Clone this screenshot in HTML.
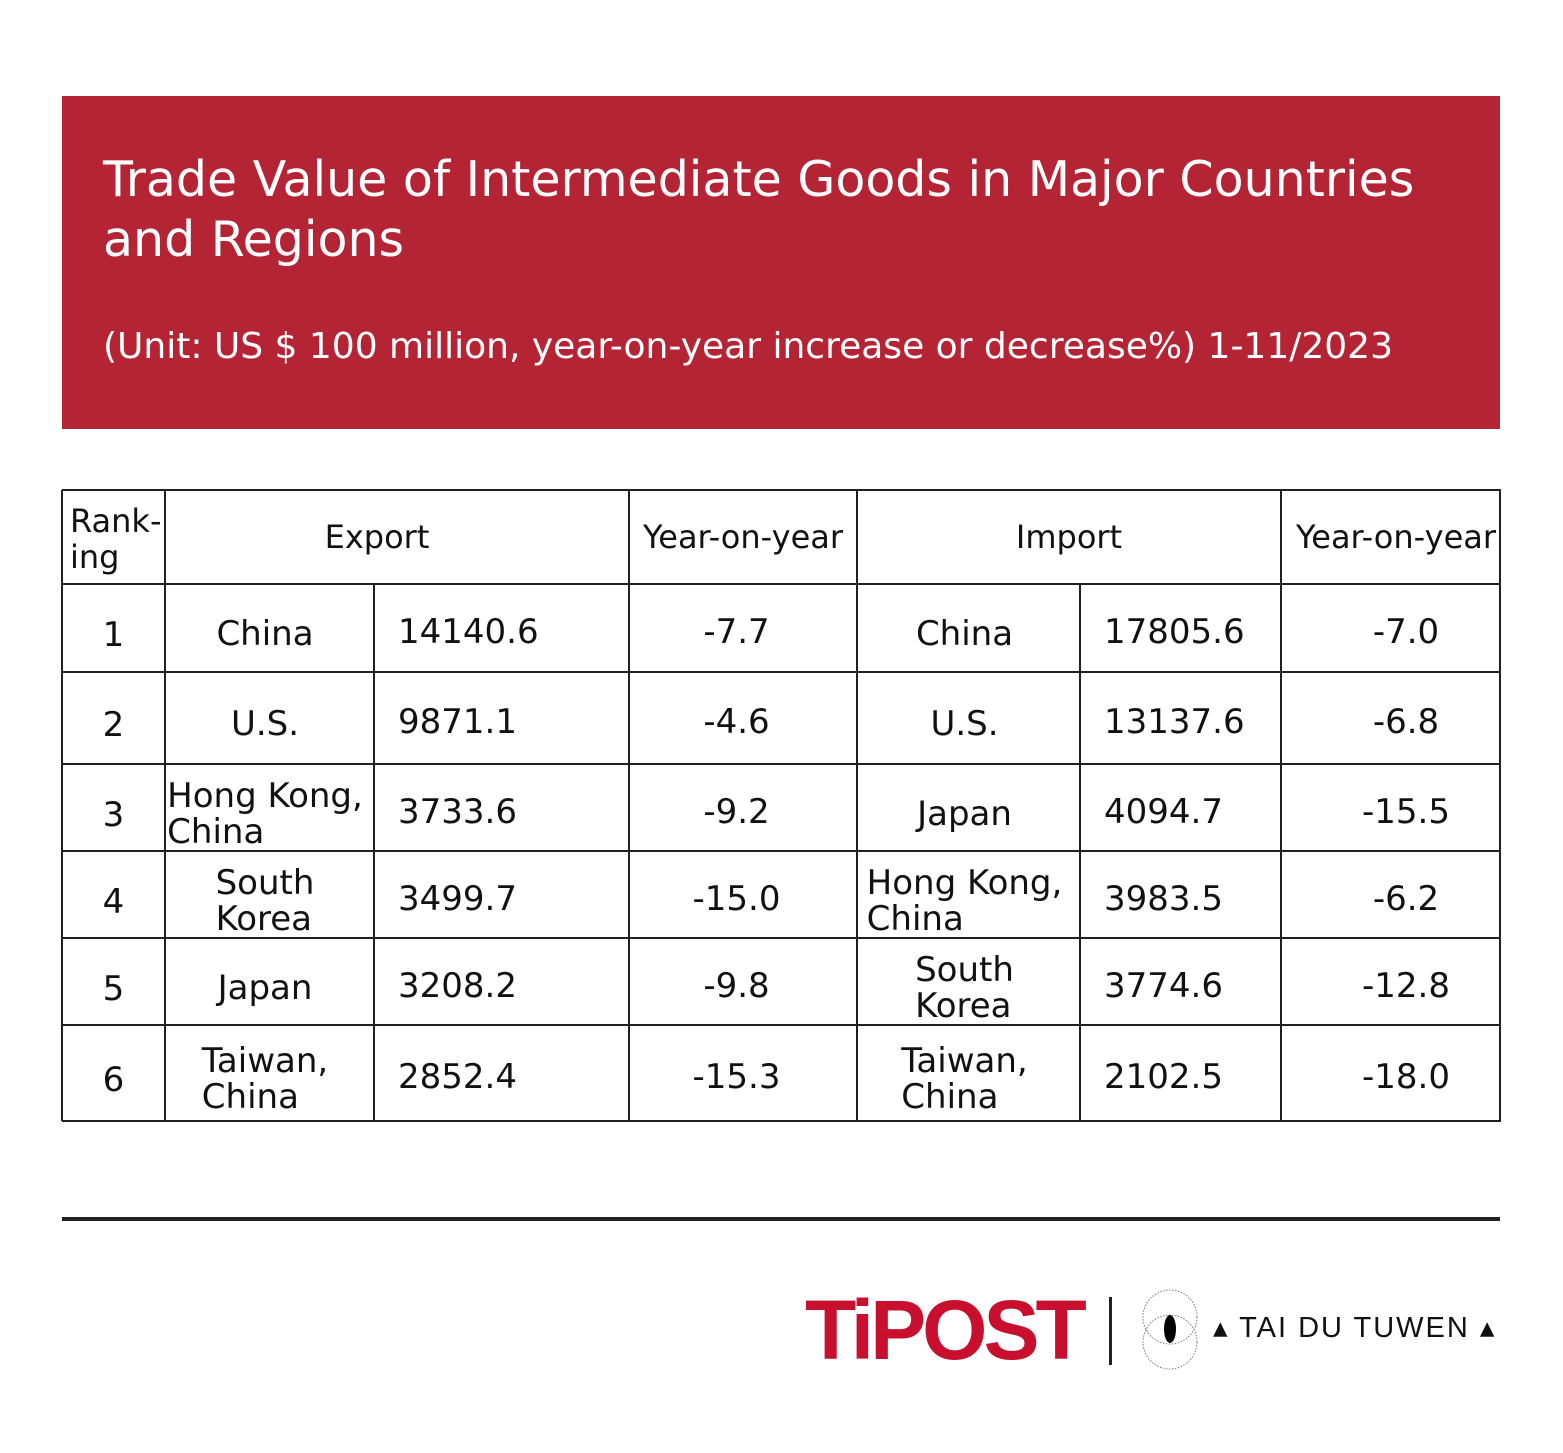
<!DOCTYPE html>
<html><head><meta charset="utf-8"><style>
body{margin:0;background:#fff;font-family:"DejaVu Sans","Liberation Sans",sans-serif;}
#page{position:relative;width:1563px;height:1453px;overflow:hidden;background:#fff}
.hdr{position:absolute;left:62px;top:96px;width:1438px;height:333px;background:#b42434}
.t{position:absolute;color:#fff;font-size:49px;line-height:60px;left:103px;top:150px;width:1380px}
.s{position:absolute;color:#fff;font-size:36px;left:103px;top:326px;white-space:nowrap}
.hl{position:absolute;background:#231f20}
.c{position:absolute;display:flex;align-items:center;justify-content:center;font-size:34px;color:#111;line-height:36px;text-align:left;white-space:nowrap}
.l{justify-content:flex-start}
.h{font-size:32px}
</style></head><body><div id="page">
<div class="hdr"></div>
<div class="t">Trade Value of Intermediate Goods in Major Countries and Regions</div>
<div class="s">(Unit: US $ 100 million, year-on-year increase or decrease%) 1-11/2023</div>
<div id="grid"></div>
<div class="hl" style="left:62px;top:1217px;width:1438px;height:4px"></div>
<div style="position:absolute;left:805px;top:1290px;font-family:'Liberation Sans',sans-serif;font-weight:bold;font-size:84px;letter-spacing:-4px;color:#c8102e;line-height:80px">TiPOST</div>
<div class="hl" style="left:1109px;top:1297px;width:3px;height:68px"></div>
<svg style="position:absolute;left:1135px;top:1282px" width="75" height="95">
<circle cx="35" cy="35" r="27" fill="none" stroke="#777" stroke-dasharray="1.5,1.5"/>
<circle cx="35" cy="60" r="27" fill="none" stroke="#777" stroke-dasharray="1.5,1.5"/>
<ellipse cx="35" cy="47" rx="6" ry="14" fill="#000"/></svg>
<div style="position:absolute;left:1213px;top:1310px;font-family:'Liberation Sans',sans-serif;font-size:29px;letter-spacing:2px;color:#111;white-space:nowrap">▴ TAI DU TUWEN ▴</div>
</div>
<script>
const xs=[62,165,374,629,857,1080,1281,1500];
const ys=[490,584,672,764,851,938,1025,1121];
const p=document.getElementById('page');
function line(x,y,w,h){const d=document.createElement('div');d.className='hl';d.style.cssText=`left:${x}px;top:${y}px;width:${w}px;height:${h}px`;


p.appendChild(d);}
ys.forEach(y=>line(62,y-1,1439,2));
[0,1,3,4,6,7].forEach(i=>line(xs[i]-1,490,2,631));
[2,5].forEach(i=>line(xs[i]-1,584,2,537));
function cell(x,y,w,h,txt,left,name,pad,cls){const d=document.createElement('div');d.className='c'+(left?' l':'')+(cls?' '+cls:'');
d.style.cssText=`left:${x+(pad||0)}px;top:${y+4}px;width:${w-(pad||0)}px;height:${h}px`;d.innerHTML=txt;


p.appendChild(d);}
cell(62,490,103,90,'Rank-<br>ing',true,'header-ranking',8,'h');
cell(165,486,424,94,'Export',false,'header-export',0,'h');
cell(629,486,228,94,'Year-on-year',false,'header-export-yoy',0,'h');
cell(857,486,424,94,'Import',false,'header-import',0,'h');
cell(1281,486,230,94,'Year-on-year',false,'header-import-yoy',0,'h');
const ex=['China','U.S.','Hong Kong,<br>China','South<br>Korea','Japan','Taiwan,<br>China'];
const exv=['14140.6','9871.1','3733.6','3499.7','3208.2','2852.4'];
const exy=['-7.7','-4.6','-9.2','-15.0','-9.8','-15.3'];
const im=['China','U.S.','Japan','Hong Kong,<br>China','South<br>Korea','Taiwan,<br>China'];
const imv=['17805.6','13137.6','4094.7','3983.5','3774.6','2102.5'];
const imy=['-7.0','-6.8','-15.5','-6.2','-12.8','-18.0'];
for(let r=0;r<6;r++){const y=ys[r+1],h=ys[r+2]-y;
cell(62,y+3,103,h,String(r+1),false,'rank-'+(r+1));
cell(165,y+2,200,h,ex[r],false,'export-country-'+(r+1));
cell(374,y,255,h,exv[r],true,'export-value-'+(r+1),24);
cell(629,y,215,h,exy[r],false,'export-yoy-'+(r+1));
cell(857,y+2,215,h,im[r],false,'import-country-'+(r+1));
cell(1080,y,201,h,imv[r],true,'import-value-'+(r+1),24);
cell(1281,y,250,h,imy[r],false,'import-yoy-'+(r+1));}
</script></body></html>
